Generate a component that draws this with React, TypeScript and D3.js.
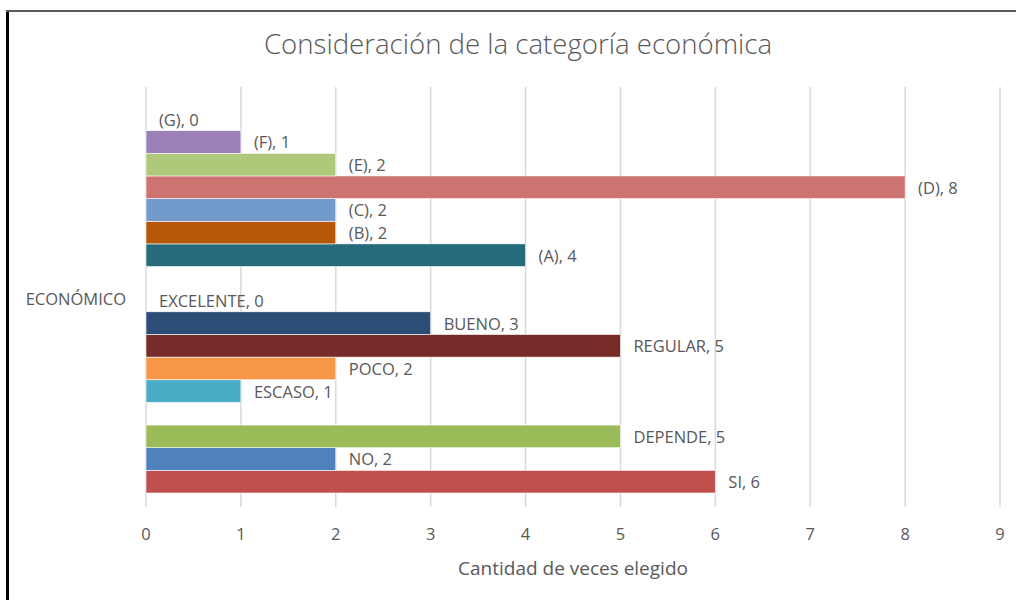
import React from "react";
import * as d3 from "d3";

const categories = ["ECONÓMICO"];
// series listed bottom-to-top (Excel bar order); empty names are spacer series
const seriesNames = ["SI", "NO", "DEPENDE", "", "ESCASO", "POCO", "REGULAR", "BUENO", "EXCELENTE", "", "(A)", "(B)", "(C)", "(D)", "(E)", "(F)", "(G)"];
const seriesValues: (number | null)[] = [6, 2, 5, null, 1, 2, 5, 3, 0, null, 4, 2, 2, 8, 2, 1, 0];
const seriesColors = ["#C0504D", "#4F81BD", "#9BBB59", "none", "#4BACC6", "#F79646", "#772C2A", "#2C4D75", "#1F497D", "none", "#276A7C", "#B65708", "#729ACA", "#CD7371", "#AFC97A", "#9A80B6", "#5F4A7A"];
const xTicks = [0, 1, 2, 3, 4, 5, 6, 7, 8, 9];
const title = "Consideración de la categoría económica";
const xTitle = "Cantidad de veces elegido";

const W = 1016;
const H = 600;
const FONT = "'Open Sans', sans-serif";
const TXT = "#595959";

export default function App() {
  const plotLeft = 146;
  const plotRight = 1000;
  const plotTop = 87;
  const plotBottom = 507;
  const x = d3.scaleLinear().domain([0, 9]).range([plotLeft, plotRight]);
  const cat = d3.scaleBand<string>().domain(categories).range([plotTop, plotBottom]);
  const idx = seriesNames.map((_, i) => String(i));
  const bandTop = 108;
  const bandBottom = 493;
  const y = d3.scaleBand<string>().domain(idx).range([bandBottom, bandTop]).padding(0);
  const bh = y.bandwidth();

  return (
    <svg width={W} height={H} style={{ position: "absolute", left: 0, top: 0, background: "#fff" }} fontFamily={FONT}>
      <rect x={0} y={0} width={W} height={H} fill="#fff" />
      <line x1={7.5} y1={10} x2={7.5} y2={H} stroke="#000" strokeWidth={3} />
      <line x1={6} y1={11} x2={W} y2={11} stroke="#595959" strokeWidth={2} />
      <text x={518} y={47} textAnchor="middle" dominantBaseline="middle" fontSize={27.6} fontWeight={300} fill={TXT}>{title}</text>
      {xTicks.map((t) => (
        <line key={"g" + t} x1={x(t)} x2={x(t)} y1={plotTop} y2={plotBottom} stroke="#D9D9D9" strokeWidth={1.5} />
      ))}
      {seriesNames.map((name, i) => {
        const v = seriesValues[i];
        if (v === null || name === "") return null;
        const yy = y(String(i))!;
        return (
          <g key={"b" + i}>
            {v > 0 && <rect x={x(0)} y={yy} width={x(v) - x(0)} height={bh} fill={seriesColors[i]} stroke="#fff" strokeWidth={0.6} />}
            <text x={x(v) + 13} y={yy + bh / 2 + 2} dominantBaseline="middle" fontSize={16.5} fill={TXT}>{`${name}, ${v}`}</text>
          </g>
        );
      })}
      {categories.map((c) => (
        <text key={c} x={126} y={cat(c)! + cat.bandwidth() / 2 + 4} textAnchor="end" dominantBaseline="middle" fontSize={16.5} fill={TXT}>{c}</text>
      ))}
      {xTicks.map((t) => (
        <text key={"t" + t} x={x(t)} y={536} textAnchor="middle" dominantBaseline="middle" fontSize={16.5} fill={TXT}>{t}</text>
      ))}
      <text x={(plotLeft + plotRight) / 2} y={570} textAnchor="middle" dominantBaseline="middle" fontSize={19} fill={TXT}>{xTitle}</text>
    </svg>
  );
}
